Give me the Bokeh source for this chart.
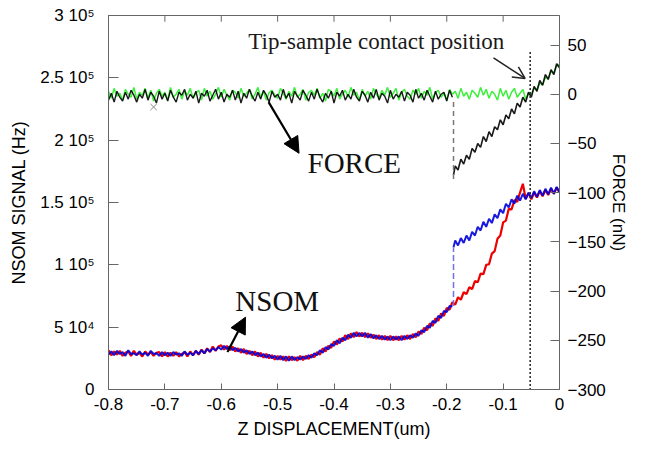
from bokeh.plotting import figure
from bokeh.models import (Range1d, LinearAxis, FixedTicker, Label, Arrow,
                          NormalHead, OpenHead)
from bokeh.embed import file_html
from bokeh.resources import INLINE

# ---------------- data ----------------
# Z displacement sample positions (um), 0.005 um apart
z = [round(-0.80 + 0.005 * i, 3) for i in range(161)]

# FORCE (nN) - approach trace (green)
force_green = [3, -4, 6, -2, 1, -6, 5, 0, -3, 7,
               -5, 2, -1, 6, -4, 4, -7, 1, 5, -2,
               2, -6, 7, -3, 0, 5, -5, 3, -1, 6,
               -4, 1, 4, -6, 6, -2, 3, -5, 0, 7,
               -3, 5, -1, -6, 4, 2, -4, 6, -2, 1,
               5, -5, 0, 7, -3, 3, -6, 2, 4, -1,
               -4, 6, 1, -5, 3, -2, 7, -3, 0, 5,
               -6, 2, 4, -1, 6, -4, 1, -7, 5, 3,
               -2, 6, -5, 0, 4, -3, 7, -1, 2, -6,
               5, -2, 3, -5, 6, 0, -4, 4, -1, 7,
               -3, 1, 6, -6, 2, 5, -2, -5, 4, 0,
               6, -4, 3, -1, 7, -5, 2, 4, -3, 1,
               -6, 5, 0, 3, -4, 6, -2, 2, -5, 4,
               1, -3, 7, -1, 5, -4, 3, 0, -6, 6,
               -2, 4, -5, 2, 6, -3, 1, 5,
               -5, 1, 0, 6, 5, 11, 10, 17, 16, 23, 22, 29, 30]

# FORCE (nN) - retract trace (black), before the snap (-0.80 .. -0.19)
z_flat = z[:123]
force_black_flat = [-6, 1, -8, 3, -3, -7, 2, -5, 4, -1,
                    -8, 0, -4, 5, -6, 2, -2, -9, 3, -5,
                    1, -7, 4, -3, -8, 2, -1, 5, -6, 0,
                    -4, 3, -9, 1, -2, 4, -7, -1, 5, -5,
                    2, -8, 0, -3, 4, -6, 3, -9, 1, -4,
                    5, -2, -7, 2, -5, 4, -1, -8, 3, -3,
                    0, -6, 5, -4, 1, -9, 3, -2, -6, 4,
                    -1, -7, 2, -5, 5, -3, -8, 1, -4, 3,
                    -9, 2, -2, 4, -6, 0, -5, 5, -3, -7,
                    3, -1, -8, 2, -4, 5, -6, 1, -2, -9,
                    4, -5, 0, -3, 3, -7, 2, -1, -8, 5,
                    -4, 1, -6, 4, -2, -8, 3, -5, 0, 2,
                    -7, 4, -3]
# retract trace after the snap (-0.188 .. 0)
z_ramp = [-0.188] + z[123:]
force_black_ramp = [-82, -73, -77, -66, -71, -62, -66, -55, -59, -50,
                    -54, -43, -48, -38, -43, -33, -36, -26, -31, -21,
                    -25, -15, -20, -9, -13, -3, -8, 2, -3, 8,
                    3, 14, 9, 20, 15, 25, 20, 31, 27]

# NSOM signal (x1000 Hz) - red trace
nsom_red = [31.5, 27.5, 30.5, 28, 31, 27, 29.5, 30.5, 27, 31,
            28, 29.5, 26.5, 30.5, 28, 30, 27, 29.5, 30, 26.5,
            30, 26.5, 29.5, 27, 30, 26.5, 28.5, 30, 26.5, 30.5,
            27.5, 31, 28, 32, 29, 33, 30, 34.5, 31, 34.5,
            35.5, 32, 35, 31.5, 34.5, 30.5, 33, 29.5, 32.5, 28.5,
            31, 27.5, 30.5, 26.5, 29.5, 25.5, 28.5, 25, 27.5, 24,
            27, 24, 26.5, 23, 26.5, 23.5, 26, 23, 27, 23.5,
            27, 24.5, 28, 26, 30, 28, 33, 30.5, 35, 33.5,
            38.5, 36, 41, 38.5, 43.5, 40.5, 45, 42, 46, 42.5,
            45.5, 42, 45, 41.5, 44, 40.5, 43.5, 40, 43, 39.5,
            43, 39.5, 42.5, 39.5, 43, 40, 43.5, 40.5, 44.5, 42,
            46.5, 44.5, 49.5, 47.5, 53, 51, 57, 55, 61, 59,
            65.5, 64, 70, 68, 74, 72, 78, 76.5, 82, 80.5,
            87, 86, 93, 92.5, 100, 100.5, 109, 111, 121, 123.5,
            134, 135.5, 145, 144.5, 152, 150.5, 158, 165, 153, 157.5,
            152.5, 158, 154, 159, 155, 160, 156, 161, 157, 162,
            158]

# NSOM signal (x1000 Hz) - blue trace, before and after the jump
nsom_blue_low = [28, 30.5, 27.5, 31, 28.5, 30, 27, 31.5, 28.5, 29,
                 27.5, 30.5, 28, 29.5, 27, 31, 28.5, 29, 27, 30,
                 27.5, 29.5, 27, 30, 28, 29, 27, 30.5, 28, 29.5,
                 27.5, 31, 28.5, 31.5, 29, 32.5, 30.5, 33, 31.5, 34,
                 32, 35, 32.5, 34.5, 31.5, 33.5, 30.5, 32.5, 29.5, 31.5,
                 28.5, 30.5, 27.5, 29.5, 26.5, 28.5, 25.5, 28, 25, 27,
                 24, 27, 23.5, 26.5, 23, 26.5, 23.5, 26, 24, 26.5,
                 24.5, 27.5, 25.5, 29, 27.5, 31.5, 29.5, 34, 32, 36.5,
                 35, 39.5, 37, 41.5, 39.5, 44, 41.5, 45.5, 42.5, 45.5,
                 42.5, 45.5, 41.5, 44.5, 41, 43.5, 40.5, 43, 40, 42.5,
                 39.5, 42.5, 40, 42.5, 39.5, 43, 40.5, 43.5, 41.5, 45,
                 43, 47.5, 46, 51, 49.5, 55, 53.5, 59, 57.5, 63,
                 62, 67, 66.5]
nsom_blue_high = [114, 119.5, 115.5, 121.5, 117.5, 123.5, 119.5, 126.5, 123.5, 130.5,
                  127.5, 134.5, 130.5, 137, 133.5, 140.5, 137.5, 144.5, 141.5, 149,
                  146, 152.5, 149, 155.5, 151.5, 157, 152.5, 158, 153.5, 159,
                  154.5, 160, 155.5, 161, 156.5, 162, 157, 162.5, 158]

# stray marker in the force panel
stray_z = [-0.72]
stray_force = [-13]

# reference markers
contact_z = -0.052          # tip-sample contact position
snap_z = -0.188             # snap-in position
snap_force = [-8, -88]
contact_force = [43, -300]
blue_jump = [67, 114]

# axis ticks
x_ticks = [-0.8, -0.7, -0.6, -0.5, -0.4, -0.3, -0.2, -0.1, 0]
x_tick_labels = ["-0.8", "-0.7", "-0.6", "-0.5", "-0.4", "-0.3", "-0.2", "-0.1", "0"]
nsom_ticks = [0, 50, 100, 150, 200, 250, 300]
nsom_tick_labels = ["0", "5 10\u2074", "1 10\u2075", "1.5 10\u2075", "2 10\u2075",
                    "2.5 10\u2075", "3 10\u2075"]
force_ticks = [-300, -250, -200, -150, -100, -50, 0, 50]

assert len(force_green) == 161 and len(nsom_red) == 161
assert len(force_black_flat) == 123 and len(nsom_blue_low) == 123
assert len(force_black_ramp) == 39 and len(nsom_blue_high) == 39

# ---------------- figure ----------------
SANS = "Liberation Sans"
SERIF = "Liberation Serif"
AX = "#666666"
NSOM_TOP = 300
TOP_TICK_LEN = 5   # in NSOM units (about 6 px)

p = figure(width=632, height=444, x_range=Range1d(-0.8, 0),
           y_range=Range1d(0, NSOM_TOP),
           output_backend="svg", toolbar_location=None,
           min_border_left=108, min_border_right=73, min_border_top=15,
           min_border_bottom=55)
p.extra_y_ranges = {"force": Range1d(-300, 80)}
p.grid.visible = False
p.outline_line_color = AX
p.background_fill_color = "white"
p.border_fill_color = "white"


def style_axis(ax, tick_in=7):
    ax.axis_line_color = AX
    ax.major_tick_line_color = AX
    ax.major_tick_in = tick_in
    ax.major_tick_out = 0
    ax.minor_tick_line_color = None
    ax.major_label_text_font = SANS
    ax.major_label_text_font_size = "17px"
    ax.major_label_text_color = "black"
    ax.axis_label_text_font = SANS
    ax.axis_label_text_font_size = "18px"
    ax.axis_label_text_font_style = "normal"
    ax.axis_label_text_color = "black"


xa = p.xaxis[0]
xa.ticker = FixedTicker(ticks=x_ticks)
xa.major_label_overrides = dict(zip(x_ticks, x_tick_labels))
xa.axis_label = "Z DISPLACEMENT(um)"
style_axis(xa, 6)
xa.major_label_standoff = 8
xa.axis_label_standoff = 6

ya = p.yaxis[0]
ya.ticker = FixedTicker(ticks=nsom_ticks)
ya.major_label_overrides = dict(zip(nsom_ticks, nsom_tick_labels))
ya.axis_label = "NSOM SIGNAL (Hz)"
style_axis(ya, 10)
ya.major_label_standoff = 14
ya.axis_label_standoff = 8

ra = LinearAxis(y_range_name="force", ticker=FixedTicker(ticks=force_ticks),
                axis_label="FORCE (nN)")
style_axis(ra, 9)
ra.axis_label_text_font_size = "17px"
ra.major_label_standoff = 8
ra.axis_label_standoff = 0
p.add_layout(ra, "right")

# tick marks on the top edge of the frame (no labels)
p.segment(x0=x_ticks, y0=[NSOM_TOP] * len(x_ticks), x1=x_ticks,
          y1=[NSOM_TOP - TOP_TICK_LEN] * len(x_ticks), line_color=AX, line_width=1)

# ---------------- traces ----------------
GREEN = "#3cf03c"
p.line(z, force_green, y_range_name="force", line_color=GREEN, line_width=1.5)
p.line(z_flat, force_black_flat, y_range_name="force", line_color="black",
       line_width=1.4, line_alpha=0.9)
p.line(z_ramp, force_black_ramp, y_range_name="force", line_color="black",
       line_width=1.6, line_alpha=0.9)
p.line([snap_z, snap_z], snap_force, y_range_name="force", line_color="#777777",
       line_width=1.5, line_dash="5 4")
p.scatter(stray_z, stray_force, y_range_name="force", marker="x", size=9,
          line_color="#888888", line_width=1)

p.line(z, nsom_red, line_color="#ee0000", line_width=2.2)
p.line(z_flat, nsom_blue_low, line_color="#0000dd", line_width=2.0, line_alpha=0.9)
p.line(z_ramp, nsom_blue_high, line_color="#0000dd", line_width=2.0, line_alpha=0.9)
p.line([snap_z, snap_z], blue_jump, line_color="#7070ee", line_width=1.5,
       line_dash="6 3")

p.line([contact_z, contact_z], contact_force, y_range_name="force",
       line_color="#333333", line_width=1.6, line_dash="2 2")

# ---------------- annotations ----------------
p.add_layout(Label(x=-0.552, y=54, y_range_name="force",
                   text="Tip-sample contact position", text_font=SERIF,
                   text_font_size="23px", text_baseline="alphabetic",
                   text_color="#1a1a1a"))
p.add_layout(Arrow(end=OpenHead(size=12, line_width=1.5, line_color="#222222"),
                   x_start=-0.117, y_start=37, x_end=-0.061, y_end=16,
                   y_range_name="force", line_width=1.5, line_color="#222222"))

p.add_layout(Label(x=-0.447, y=-70, y_range_name="force", text="FORCE",
                   text_font=SERIF, text_font_size="29px",
                   text_baseline="alphabetic", text_color="#111111"))
p.add_layout(Arrow(end=NormalHead(size=16, fill_color="black", line_color="black"),
                   x_start=-0.516, y_start=-8, x_end=-0.462, y_end=-60,
                   y_range_name="force", line_width=2.2, line_color="black"))

p.add_layout(Label(x=-0.575, y=71, text="NSOM", text_font=SERIF,
                   text_font_size="29px", text_baseline="alphabetic",
                   text_color="#111111"))
p.add_layout(Arrow(end=NormalHead(size=16, fill_color="black", line_color="black"),
                   x_start=-0.589, y_start=30, x_end=-0.557, y_end=58,
                   line_width=2.2, line_color="black"))

open("out.html", "w").write(file_html(p, INLINE))
